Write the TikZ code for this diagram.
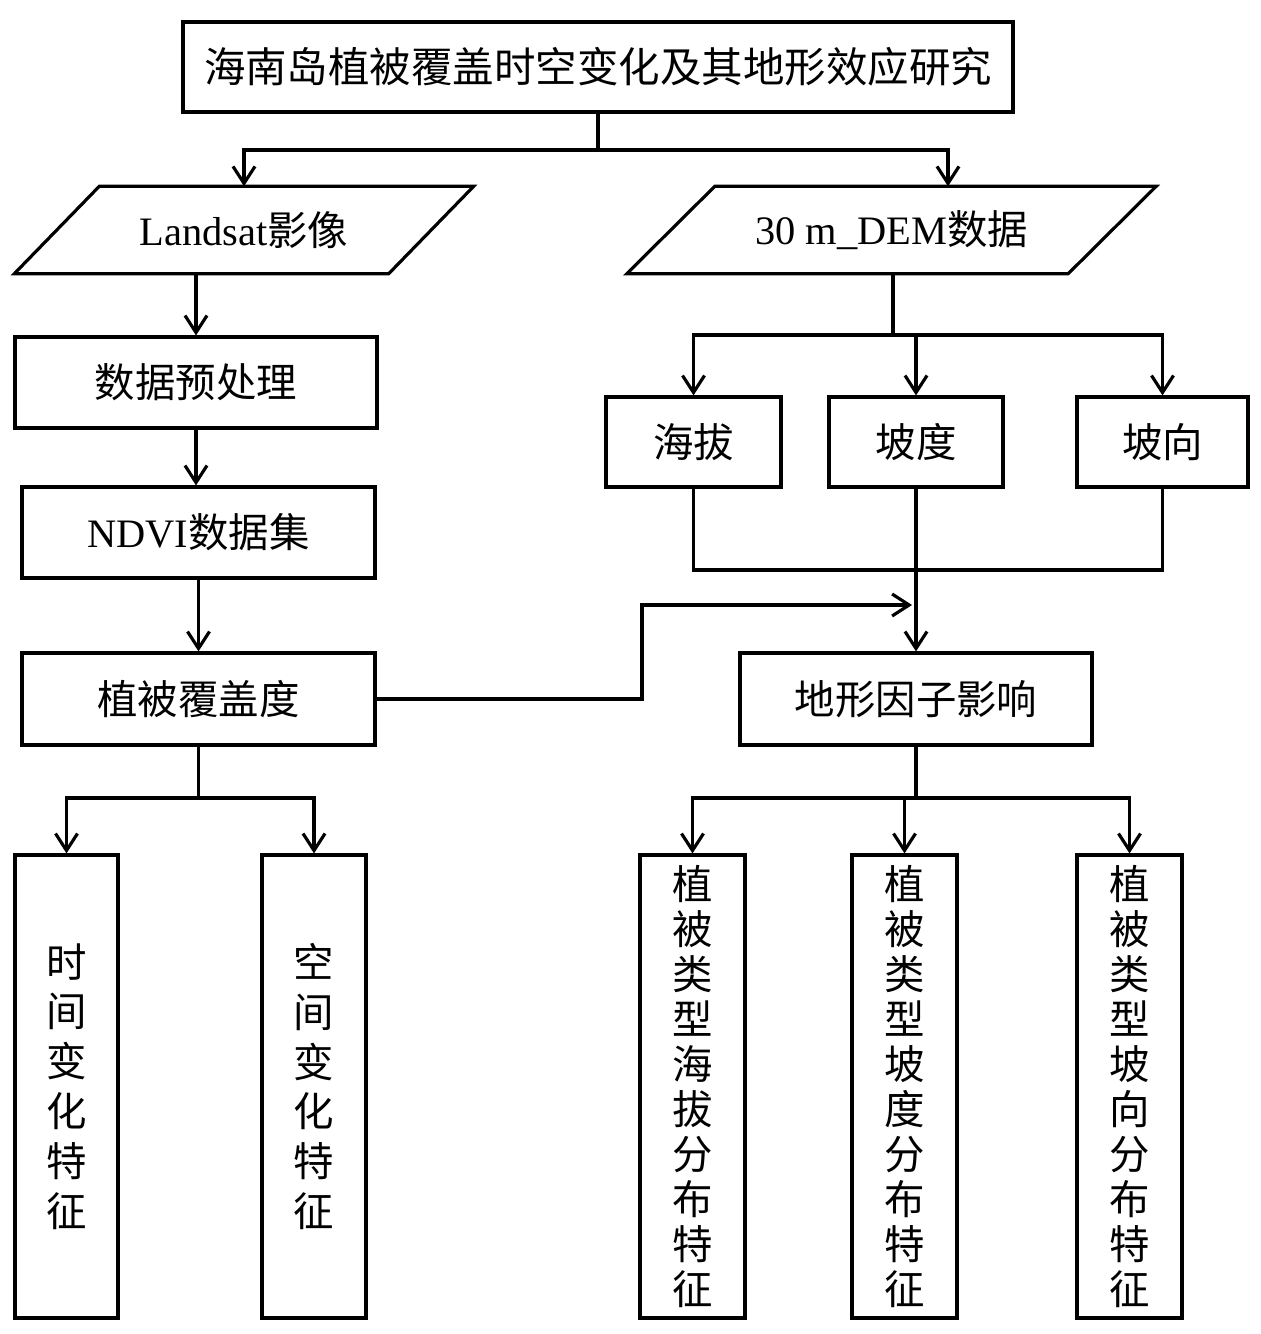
\documentclass[tikz,border=0pt]{standalone}
\usepackage{fontspec}
\setmainfont{Liberation Serif}
\newfontfamily\cjk{Noto Sans CJK SC}
\usetikzlibrary{arrows.meta}

\begin{document}
\begin{tikzpicture}[
      box/.style={draw, line width=0.9pt, inner sep=0pt, align=center,
         font=\cjk\fontsize{11.5}{14}\selectfont},
      io/.style={inner sep=0pt, minimum height=0.86cm,
         font=\cjk\fontsize{11.5}{14}\selectfont},
      ln/.style={line width=0.9pt},
      arr/.style={ln, -{Straight Barb[length=1.7mm,width=2.2mm,line width=0.9pt]}}]
   \useasboundingbox (0,0) rectangle (12.6,-13.34);
   % title
   \node[box, minimum width=8.3cm, minimum height=0.9cm, font=\cjk\fontsize{11.8}{14}\selectfont]
      (title) at (5.98,-0.67) {海南岛植被覆盖时空变化及其地形效应研究};
   % input data
   \node[io, minimum width=3.73cm] (landsat) at (2.44,-2.30) {{\rmfamily Landsat}影像};
   \node[io, minimum width=4.40cm] (dem) at (8.915,-2.30) {{\rmfamily 30 m\_DEM}数据};
   \draw[ln] ([xshift=4.25mm]landsat.north west) -- ([xshift=4.25mm]landsat.north east)
      -- ([xshift=-4.25mm]landsat.south east) -- ([xshift=-4.25mm]landsat.south west) -- cycle;
   \draw[ln] ([xshift=4.4mm]dem.north west) -- ([xshift=4.4mm]dem.north east)
      -- ([xshift=-4.4mm]dem.south east) -- ([xshift=-4.4mm]dem.south west) -- cycle;
   % left column
   \node[box, minimum width=3.62cm, minimum height=0.91cm] (prep) at (1.96,-3.825) {数据预处理};
   \node[box, minimum width=3.53cm, minimum height=0.91cm] (ndvi) at (1.985,-5.325) {{\rmfamily NDVI}数据集};
   \node[box, minimum width=3.53cm, minimum height=0.92cm] (fvc) at (1.985,-6.99) {植被覆盖度};
   \node[box, minimum width=1.03cm, minimum height=4.63cm, font=\cjk\fontsize{11.5}{14.2}\selectfont]
      (time) at (0.665,-10.865) {时\\间\\变\\化\\特\\征};
   \node[box, minimum width=1.04cm, minimum height=4.63cm, font=\cjk\fontsize{11.5}{14.2}\selectfont]
      (space) at (3.14,-10.865) {空\\间\\变\\化\\特\\征};
   % right column
   \node[box, minimum width=1.75cm, minimum height=0.9cm] (elev) at (6.935,-4.42) {海拔};
   \node[box, minimum width=1.74cm, minimum height=0.9cm] (slope) at (9.16,-4.42) {坡度};
   \node[box, minimum width=1.71cm, minimum height=0.9cm] (aspect) at (11.625,-4.42) {坡向};
   \node[box, minimum width=3.52cm, minimum height=0.92cm] (terrain) at (9.16,-6.99) {地形因子影响};
   \foreach \no / \x / \a / \b in {r1/6.925/海/拔, r2/9.045/坡/度, r3/11.295/坡/向} {
      \node[box, minimum width=1.05cm, minimum height=4.63cm, font=\cjk\fontsize{11.5}{12.8}\selectfont]
         (\no) at (\x,-10.865) {植\\被\\类\\型\\\a\\\b\\分\\布\\特\\征};
   }
   % connectors
   \coordinate (topsplit) at (5.98,-1.50);
   \coordinate (demsplit) at (8.93,-3.35);
   \coordinate (demjoin) at (9.16,-5.70);
   \coordinate (fvcbend) at (6.42,-6.05);
   \coordinate (fvchit) at (9.12,-6.05);
   \coordinate (fvcsplit) at (1.98,-7.98);
   \coordinate (terrsplit) at (9.16,-7.98);
   \draw[ln] (title.south) -- (topsplit);
   \draw[arr] (topsplit) -| (landsat.north);
   \draw[arr] (topsplit) -| ([xshift=5.65mm]dem.north);
   \draw[arr] (landsat.south -| prep.north) -- (prep.north);
   \draw[arr] (prep.south) -- (prep.south |- ndvi.north);
   \draw[arr] (ndvi.south) -- (fvc.north);
   \draw[ln] (fvc.south) -- (fvc.south |- fvcsplit);
   \draw[arr] (fvc.south |- fvcsplit) -| (time.north);
   \draw[arr] (fvc.south |- fvcsplit) -| (space.north);
   \draw[arr] (fvc.east) -| (fvcbend) -- (fvchit);
   \draw[ln] (dem.south -| demsplit) -- (demsplit);
   \foreach \v in {elev, slope, aspect}
      \draw[arr] (demsplit) -| (\v.north);
   \draw[ln] (elev.south) |- (demjoin);
   \draw[ln] (aspect.south) |- (demjoin);
   \draw[arr] (slope.south) -- (terrain.north);
   \draw[ln] (terrain.south) -- (terrsplit);
   \foreach \v in {r1, r2, r3}
      \draw[arr] (terrsplit) -| (\v.north);
\end{tikzpicture}
\end{document}
